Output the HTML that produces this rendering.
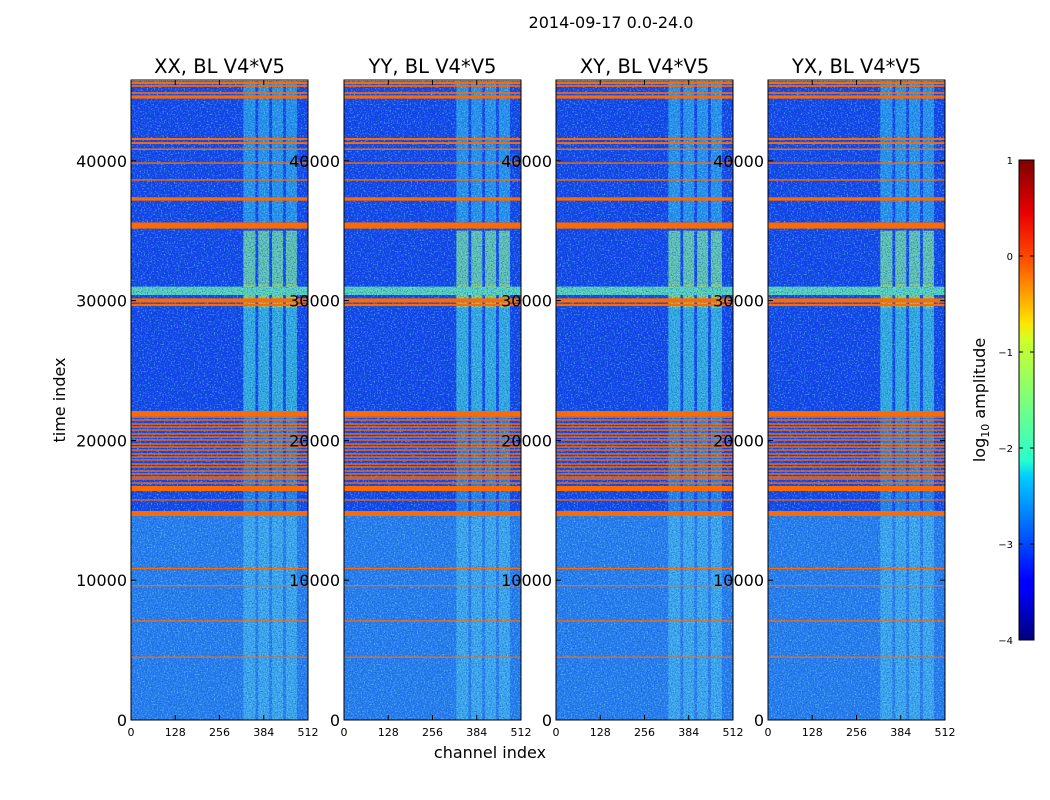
<!DOCTYPE html>
<html><head><meta charset="utf-8">
<style>
html,body{margin:0;padding:0;background:#fff;}
svg{display:block;font-family:"DejaVu Sans","Liberation Sans",sans-serif;}
</style></head>
<body>
<svg id="chart" width="1050" height="800" viewBox="0 0 1050 800" xmlns="http://www.w3.org/2000/svg">
<defs>
<filter id="noise" x="0" y="0" width="100%" height="100%">
<feTurbulence type="fractalNoise" baseFrequency="0.8" numOctaves="1" seed="3"/>
<feColorMatrix type="matrix" values="0 0 0 0 0  0 0 0 0 0.1  0 0 0 0 0.5  0 0 0 2.2 -1.0"/>
</filter>
<filter id="noise2" x="0" y="0" width="100%" height="100%">
<feTurbulence type="fractalNoise" baseFrequency="0.7" numOctaves="1" seed="9"/>
<feColorMatrix type="matrix" values="0 0 0 0 0.2  0 0 0 0 0.85  0 0 0 0 1  0 0 0 2.2 -1.15"/>
</filter>
<linearGradient id="jet" x1="0" y1="1" x2="0" y2="0">
<stop offset="0" stop-color="#00007f"/>
<stop offset="0.11" stop-color="#0000ff"/>
<stop offset="0.125" stop-color="#0000ff"/>
<stop offset="0.34" stop-color="#00ccff"/>
<stop offset="0.375" stop-color="#29ffce"/>
<stop offset="0.5" stop-color="#7dff7a"/>
<stop offset="0.625" stop-color="#ceff29"/>
<stop offset="0.66" stop-color="#ffe500"/>
<stop offset="0.8" stop-color="#ff4600"/>
<stop offset="0.89" stop-color="#e80000"/>
<stop offset="1" stop-color="#7f0000"/>
</linearGradient>
</defs>
<text x="611" y="28" font-size="16" text-anchor="middle">2014-09-17 0.0-24.0</text>
<text transform="translate(65,400) rotate(-90)" font-size="16" text-anchor="middle">time index</text>
<text x="490" y="758" font-size="16" text-anchor="middle">channel index</text>
<g id="panels"></g>
<g>
<rect x="1019" y="160" width="15" height="480" fill="url(#jet)" stroke="#000" stroke-width="1"/>
<g id="cbticks"></g>
<text transform="translate(985,400) rotate(-90)" font-size="16" text-anchor="middle">log<tspan font-size="11" dy="4">10</tspan><tspan dy="-4"> amplitude</tspan></text>
</g>
</svg>
<script>
// ---- data ----
const panelTitles = ["XX, BL V4*V5","YY, BL V4*V5","XY, BL V4*V5","YX, BL V4*V5"];
const yTicks = [0,10000,20000,30000,40000];
const xTicks = [0,128,256,384,512];
const cbTicks = [1,0,-1,-2,-3,-4];
// flagged rows: [start, end] in time index
const flagRows = [[45480,45650],[45290,45410],[44790,44910],[44450,44680],[41490,41630],[41200,41340],[40780,40880],[39790,39890],[38580,38680],[37150,37390],[35150,35590],[29860,30160],[29610,29770],[21730,22100],
[21840,21940],[21620,21720],[21410,21510],[21120,21220],[20910,21010],[20690,20790],[20410,20510],[20190,20290],[19980,20080],[19690,19790],[19480,19580],[19260,19360],[18980,19080],[18760,18860],[18550,18650],[18260,18360],[18050,18150],[17760,17860],[17550,17650],[17330,17430],[17190,17290],[16900,17000],[16380,16740],[15700,15780],[14590,14950],
[10820,10880],[9590,9650],[7060,7130],[4470,4540]];
// background regions: [start, end, level 0..1]
const bgRegions = [[0,14600,0.62],[14600,45700,0.35]];
// bright vertical bands (channels): [chStart, chEnd]
const bands = [[325,360],[368,400],[408,440],[448,480]];
// band colour by time region: [start,end,color]
const bandRegions = [[0,14600,"#48b4f0"],[14600,22000,"#2a90f0"],[22000,29500,"#40c8e0"],[29500,31200,"#b4f060"],[31200,35000,"#80e8a0"],[35600,45700,"#30a8f0"]];
const hband = [30400,31000];
// ---- geometry ----
const panelX = [131,344,556,768], PW=177, PT=80, PB=720, TMAX=45780;
const yS = t => PB - (t/TMAX)*(PB-PT);
const xS = (x0,c) => x0 + c/512*PW;
const NS="http://www.w3.org/2000/svg";
function mk(tag,attrs,parent){const e=document.createElementNS(NS,tag);for(const k in attrs)e.setAttribute(k,attrs[k]);parent.appendChild(e);return e;}
function bgColor(l){return l>0.5?"#2a7cf2":"#1440ec";}
const root=document.getElementById("panels");
panelTitles.forEach((title,i)=>{
  const x0=panelX[i];
  const g=mk("g",{},root);
  
  
  bgRegions.forEach(r=>{
    const el=mk("rect",{x:x0,y:yS(r[1]),width:PW,height:yS(r[0])-yS(r[1]),fill:bgColor(r[2])},g);
    
    
  });
  bandRegions.forEach(br=>{
    bands.forEach(b=>{
      const el=mk("rect",{x:xS(x0,b[0]),y:yS(br[1]),width:xS(x0,b[1])-xS(x0,b[0]),height:yS(br[0])-yS(br[1]),fill:br[2],opacity:0.8},g);
      
      
    });
  });
  const hb=mk("rect",{x:x0,y:yS(hband[1]),width:PW,height:yS(hband[0])-yS(hband[1]),fill:"#60d8b8"},g);
  
  
  const nz=mk("rect",{x:x0,y:PT,width:PW,height:PB-PT,filter:"url(#noise)"},g);
  
  
  const nz2=mk("rect",{x:x0,y:PT,width:PW,height:PB-PT,filter:"url(#noise2)"},g);
  
  
  flagRows.forEach(f=>{
    const el=mk("rect",{x:x0,y:yS(f[1]),width:PW,height:Math.max(1.2,yS(f[0])-yS(f[1])),fill:"#ff6a00"},g);
    
    
  });
  const fr=mk("rect",{x:x0,y:PT,width:PW,height:PB-PT,fill:"none",stroke:"#000","stroke-width":1},g);
  
  
  const tt=mk("text",{x:x0+PW/2,y:73,"font-size":19.5,"text-anchor":"middle"},g);
  tt.textContent=title;
  
  
  yTicks.forEach(v=>{
    const y=yS(v);
    mk("line",{x1:x0,x2:x0+5,y1:y,y2:y,stroke:"#000"},g);
    mk("line",{x1:x0+PW,x2:x0+PW-5,y1:y,y2:y,stroke:"#000"},g);
    const tl=mk("text",{x:x0-4,y:y+6,"font-size":16,"text-anchor":"end"},g);
    tl.textContent=v;
    
    
  });
  xTicks.forEach(v=>{
    const x=xS(x0,v);
    mk("line",{x1:x,x2:x,y1:PB,y2:PB-5,stroke:"#000"},g);
    mk("line",{x1:x,x2:x,y1:PT,y2:PT+5,stroke:"#000"},g);
    const tl=mk("text",{x:x,y:736,"font-size":11,"text-anchor":"middle"},g);
    tl.textContent=v;
    
    
  });
});
const cbg=document.getElementById("cbticks");
cbTicks.forEach(v=>{
  const y=160+(1-v)/5*480;
  mk("line",{x1:1019,x2:1023,y1:y,y2:y,stroke:"#000"},cbg);
  mk("line",{x1:1034,x2:1030,y1:y,y2:y,stroke:"#000"},cbg);
  const tl=mk("text",{x:1013,y:y+4,"font-size":10,"text-anchor":"end"},cbg);
  tl.textContent=v<0?"\u2212"+(-v):v;
  
  
});
</script>
</body></html>
